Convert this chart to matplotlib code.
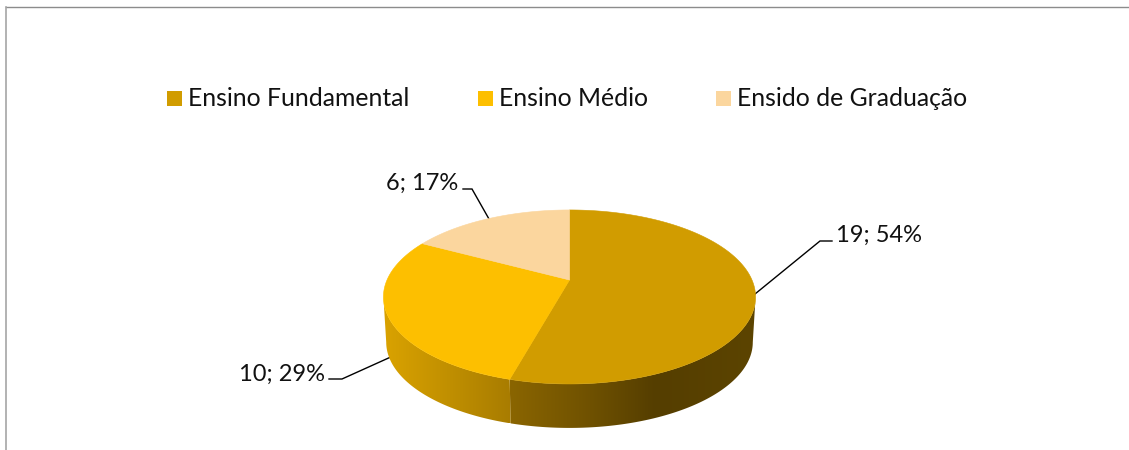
import numpy as np
import matplotlib
matplotlib.use("Agg")
import matplotlib.pyplot as plt
from matplotlib.colors import to_rgb
from matplotlib.patches import Polygon, Rectangle

categories = ["Ensino Fundamental", "Ensino Médio", "Ensido de Graduação"]
values = [19, 10, 6]
percent_labels = ["54%", "29%", "17%"]
top_colors = ["#D19C00", "#FDBF00", "#FBD69E"]

plt.rcParams["font.family"] = ["Lato", "DejaVu Sans"]

fig = plt.figure(figsize=(11.29, 4.5), dpi=100, facecolor="white")
ax = fig.add_axes([0, 0, 1, 1])
ax.set_xlim(0, 1129)
ax.set_ylim(450, 0)
ax.axis("off")

# Perspective projection of the unit disc onto the pie's top face
CX, CY = 569.5, 280.0
PERSP, KY, MX = 0.195, 83.7, 182.5
DEPTH, SHRINK = 45.5, 0.985


def project(theta, scale=1.0, dy=0.0):
    x, y = np.sin(theta), np.cos(theta)
    w = 1 + PERSP * y
    return CX + scale * MX * x / w, CY + dy - scale * KY * y / w


def ramp_image(stops, x0, x1):
    xs = [s[0] for s in stops]
    cols = np.array([to_rgb(s[1]) for s in stops])
    grid = np.linspace(x0, x1, 400)
    return np.stack([np.interp(grid, xs, cols[:, i]) for i in range(3)], axis=-1)[None, :, :]


fractions = np.array(values) / sum(values)
edges = np.concatenate([[0], np.cumsum(fractions)]) * 2 * np.pi

# Side wall: a horizontal colour ramp clipped to each slice's outline
side_ramps = [
    [(511, "#8A6500"), (590, "#6F5100"), (655, "#553E00"), (755, "#5C4400")],
    [(386, "#D9A200"), (450, "#C08F00"), (511, "#A87C00")],
]
theta_edge = np.arccos(-PERSP)
side_spans = [(theta_edge, edges[1]), (edges[1], 2 * np.pi - theta_edge)]
for (start, stop), ramp in zip(side_spans, side_ramps):
    t = np.linspace(start, stop, 200)
    tx, ty = project(t)
    bx, by = project(t, SHRINK, DEPTH)
    outline = np.column_stack([np.r_[tx, bx[::-1]], np.r_[ty, by[::-1]]])
    clip = Polygon(outline, closed=True, transform=ax.transData, facecolor="none", edgecolor="none")
    ax.add_patch(clip)
    x0, x1 = outline[:, 0].min(), outline[:, 0].max()
    y0, y1 = outline[:, 1].min(), outline[:, 1].max()
    im = ax.imshow(ramp_image(ramp, x0, x1), extent=(x0, x1, y1, y0), aspect="auto",
                   interpolation="bilinear", zorder=2)
    im.set_clip_path(clip)
ax.set_xlim(0, 1129)
ax.set_ylim(450, 0)

# Top face wedges
for i, color in enumerate(top_colors):
    t = np.linspace(edges[i], edges[i + 1], 200)
    px, py = project(t)
    pts = np.column_stack([np.r_[CX, px], np.r_[CY, py]])
    ax.add_patch(Polygon(pts, closed=True, facecolor=color, edgecolor=color, linewidth=0.4, zorder=3))

# Data labels with leader lines
label_text = [f"{v}; {p}" for v, p in zip(values, percent_labels)]
label_pos = [(836, 235, "left"), (325, 374, "right"), (458, 183, "right")]
leaders = [
    ([755, 820, 832], [294, 241, 241]),
    ([393, 342, 329], [356, 379, 379]),
    ([489, 472, 463], [219, 189, 189]),
]
for text, (x, y, ha), (lx, ly) in zip(label_text, label_pos, leaders):
    ax.plot(lx, ly, color="black", lw=1.0, zorder=1, solid_joinstyle="miter")
    ax.text(x, y, text, ha=ha, va="center", fontsize=17, color="#111111")

# Legend row
swatch_x = [167, 478, 716]
for name, color, x in zip(categories, top_colors, swatch_x):
    ax.add_patch(Rectangle((x, 91), 15, 15, facecolor=color, edgecolor="none"))
    ax.text(x + 21, 99, name, ha="left", va="center", fontsize=17.8, color="#111111")

# Chart area border: top and left edges only
ax.plot([5.5, 1129], [6.5, 6.5], color="#8C8C8C", lw=1.0, clip_on=False)
ax.plot([5.5, 5.5], [6.5, 450], color="#A6A6A6", lw=1.2, clip_on=False)

fig.savefig("out.png", dpi=100, facecolor="white")
